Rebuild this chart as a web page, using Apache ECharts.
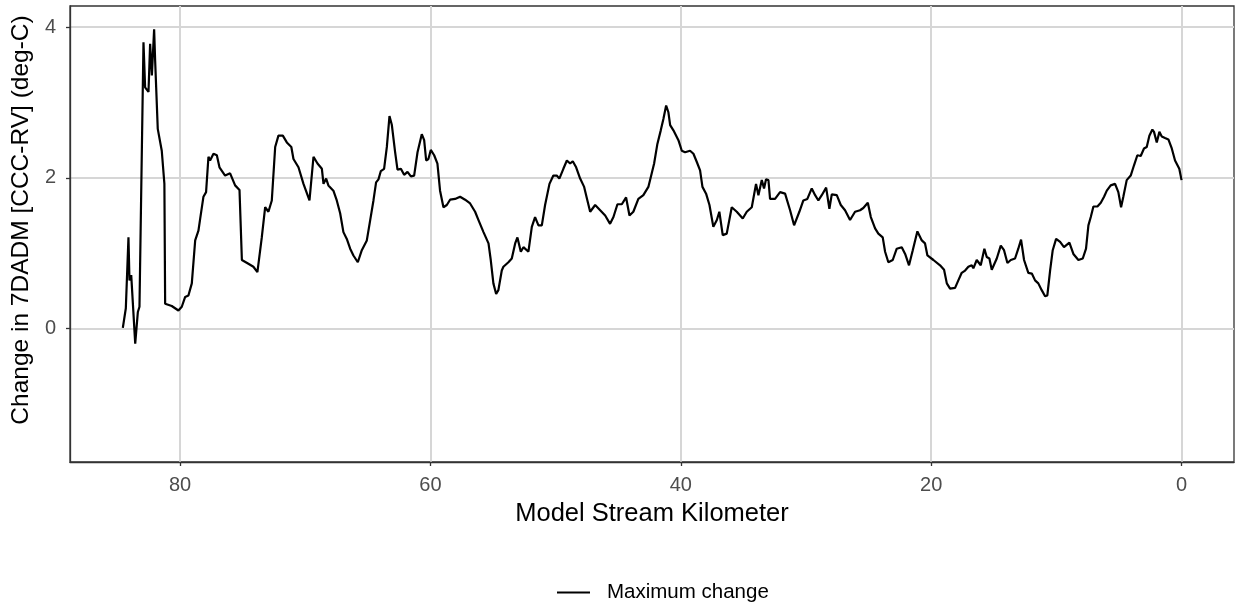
<!DOCTYPE html>
<html>
<head>
<meta charset="utf-8">
<script src="https://cdn.jsdelivr.net/npm/echarts@6/dist/echarts.min.js"></script>
<style>
html,body{margin:0;padding:0;background:#fff;}
#chart{width:1238px;height:603px;}
</style>
</head>
<body>
<div id="chart"></div>
<script>
const streamKm = [
84.57,84.33,84.12,84.04,83.90,83.58,83.37,83.24,82.92,82.79,82.52,82.39,82.25,82.07,81.99,81.78,81.46,81.25,81.19,80.66,
80.13,79.86,79.59,79.33,79.06,78.79,78.53,78.39,78.13,77.92,77.73,77.60,77.33,77.06,76.85,76.40,76.00,75.60,75.25,75.06,
74.54,74.14,73.82,73.47,73.20,72.94,72.67,72.40,72.14,71.79,71.47,71.11,70.94,70.54,70.14,69.66,69.34,69.02,68.67,68.54,
68.33,68.15,67.75,67.48,67.21,66.95,66.68,66.41,66.15,65.80,65.48,65.08,64.81,64.55,64.34,64.15,63.96,63.70,63.48,63.27,
63.08,62.82,62.63,62.36,62.10,61.83,61.56,61.30,61.03,60.69,60.50,60.34,60.16,59.97,59.70,59.44,59.23,58.96,58.69,58.43,
58.03,57.63,57.23,56.83,56.43,56.16,55.76,55.36,55.18,54.97,54.75,54.57,54.30,54.17,53.77,53.50,53.23,53.05,52.78,52.57,
52.17,51.90,51.64,51.37,51.10,50.84,50.49,50.18,49.91,49.70,49.38,49.10,48.84,48.63,48.36,48.04,47.72,47.46,47.24,46.84,
46.44,46.04,45.65,45.38,45.06,44.71,44.37,44.10,43.79,43.39,42.99,42.59,42.32,42.13,41.87,41.60,41.39,41.17,40.99,40.85,
40.59,40.19,39.92,39.66,39.26,38.99,38.72,38.46,38.27,37.98,37.71,37.40,37.12,36.92,36.65,36.33,35.93,35.53,35.05,34.73,
34.33,33.99,33.80,33.53,33.35,33.19,33.00,32.87,32.47,32.07,31.67,31.27,30.95,30.53,30.21,29.89,29.54,29.27,29.01,28.74,
28.39,28.13,27.94,27.54,27.22,26.88,26.48,26.08,25.68,25.42,25.06,24.82,24.48,24.22,23.87,23.68,23.42,23.07,22.75,22.35,
22.08,21.77,21.47,21.10,20.75,20.49,20.30,19.82,19.29,18.97,18.75,18.49,18.09,17.83,17.56,17.29,17.03,16.76,16.63,16.36,
16.04,15.75,15.56,15.35,15.16,14.76,14.44,14.18,13.91,13.64,13.30,13.04,12.82,12.58,12.24,11.96,11.70,11.44,11.17,10.90,
10.72,10.50,10.29,10.02,9.70,9.39,8.96,8.64,8.24,7.89,7.63,7.44,7.25,7.04,6.72,6.45,6.19,5.97,5.66,5.31,
5.05,4.83,4.65,4.38,4.06,3.79,3.53,3.26,3.00,2.78,2.57,2.33,2.20,1.98,1.77,1.58,1.32,1.05,0.78,0.52,
0.18,0.00
];
const maxChange = [
0.01,0.27,1.21,0.64,0.71,-0.20,0.22,0.29,3.80,3.20,3.14,3.78,3.36,3.97,3.56,2.65,2.36,1.92,0.33,0.30,
0.24,0.29,0.42,0.44,0.60,1.17,1.30,1.46,1.75,1.81,2.28,2.23,2.32,2.30,2.14,2.03,2.06,1.90,1.84,0.91,
0.86,0.82,0.75,1.21,1.61,1.55,1.70,2.41,2.56,2.56,2.47,2.41,2.25,2.14,1.92,1.70,2.28,2.19,2.12,1.92,
1.99,1.90,1.83,1.70,1.53,1.28,1.19,1.06,0.97,0.88,1.04,1.17,1.44,1.70,1.94,1.98,2.09,2.12,2.41,2.82,
2.70,2.34,2.11,2.12,2.04,2.08,2.02,2.03,2.34,2.58,2.50,2.23,2.25,2.37,2.30,2.19,1.83,1.61,1.64,1.71,
1.72,1.75,1.71,1.66,1.55,1.44,1.28,1.13,0.91,0.60,0.46,0.51,0.77,0.82,0.88,0.93,1.13,1.21,1.02,1.08,
1.02,1.35,1.48,1.37,1.37,1.64,1.92,2.03,2.03,1.99,2.12,2.23,2.19,2.22,2.14,1.99,1.88,1.70,1.55,1.64,
1.57,1.50,1.39,1.48,1.65,1.65,1.74,1.50,1.55,1.72,1.77,1.88,2.06,2.19,2.45,2.63,2.78,2.96,2.87,2.70,
2.63,2.50,2.36,2.34,2.36,2.32,2.21,2.10,1.88,1.79,1.64,1.35,1.44,1.55,1.24,1.26,1.61,1.55,1.46,1.55,
1.61,1.92,1.77,1.97,1.86,1.98,1.97,1.72,1.72,1.81,1.79,1.57,1.37,1.55,1.70,1.72,1.86,1.77,1.70,1.77,
1.87,1.59,1.78,1.77,1.64,1.57,1.44,1.55,1.57,1.60,1.67,1.48,1.33,1.26,1.21,1.02,0.88,0.91,1.06,1.08,
0.99,0.84,1.04,1.29,1.17,1.13,0.97,0.91,0.84,0.78,0.60,0.53,0.54,0.64,0.74,0.77,0.82,0.84,0.80,0.91,
0.84,1.06,0.95,0.93,0.78,0.93,1.10,1.04,0.87,0.91,0.93,1.06,1.18,0.91,0.74,0.73,0.64,0.60,0.51,0.43,
0.44,0.77,1.04,1.19,1.15,1.08,1.14,0.99,0.91,0.93,1.06,1.37,1.48,1.62,1.62,1.67,1.75,1.83,1.90,1.92,
1.81,1.61,1.75,1.97,2.03,2.17,2.30,2.29,2.39,2.41,2.56,2.64,2.61,2.47,2.61,2.55,2.53,2.51,2.39,2.23,
2.12,1.97
];
const xTicks = [0, 20, 40, 60, 80];
const yTicks = [0, 2, 4];
const seriesName = 'Maximum change';
const xTitle = 'Model Stream Kilometer';
const yTitle = 'Change in 7DADM [CCC-RV] (deg-C)';

const points = streamKm.map((k, i) => [k, maxChange[i]]);
const font = 'Liberation Sans, Arial, sans-serif';

const chart = echarts.init(document.getElementById('chart'), null, {renderer: 'canvas'});
chart.setOption({
  backgroundColor: '#ffffff',
  animation: false,
  grid: {
    left: 70, right: 4, top: 6, bottom: 141,
    show: true, borderColor: '#333333', borderWidth: 1.3, backgroundColor: 'transparent'
  },
  xAxis: {
    type: 'value', inverse: true, min: -4.19, max: 88.79,
    name: xTitle, nameLocation: 'middle', nameGap: 39,
    nameTextStyle: {fontFamily: font, fontSize: 25.5, color: '#000000'},
    axisLine: {show: true, onZero: false, lineStyle: {color: '#333333', width: 1.3}},
    axisTick: {show: true, length: 4, customValues: xTicks, lineStyle: {color: '#333333', width: 1.3}},
    axisLabel: {customValues: xTicks, margin: 13, fontFamily: font, fontSize: 20, color: '#4d4d4d'},
    splitLine: {show: true, lineStyle: {color: '#d6d6d6', width: 2}}
  },
  yAxis: {
    type: 'value', min: -1.77, max: 4.28,
    name: yTitle, nameLocation: 'middle', nameGap: 31,
    nameTextStyle: {fontFamily: font, fontSize: 24.5, color: '#000000', padding: [0, 0, 0, 28]},
    axisLine: {show: true, onZero: false, lineStyle: {color: '#333333', width: 1.3}},
    axisTick: {show: true, length: 4, customValues: yTicks, lineStyle: {color: '#333333', width: 1.3}},
    axisLabel: {customValues: yTicks, margin: 14, fontFamily: font, fontSize: 20, color: '#4d4d4d'},
    splitLine: {show: true, lineStyle: {color: '#d6d6d6', width: 2}}
  },
  legend: {
    left: 552, top: 577,
    itemWidth: 33, itemHeight: 14,
    data: [{name: seriesName, icon: 'path://M0,6 L33,6 L33,8 L0,8 Z'}],
    textStyle: {fontFamily: font, fontSize: 20.5, color: '#000000', padding: [0, 0, 0, 12]}
  },
  series: [{
    name: seriesName, type: 'line', data: points,
    showSymbol: false, symbol: 'none',
    lineStyle: {color: '#000000', width: 2.2},
    itemStyle: {color: '#000000'}
  }]
});
</script>
</body>
</html>
